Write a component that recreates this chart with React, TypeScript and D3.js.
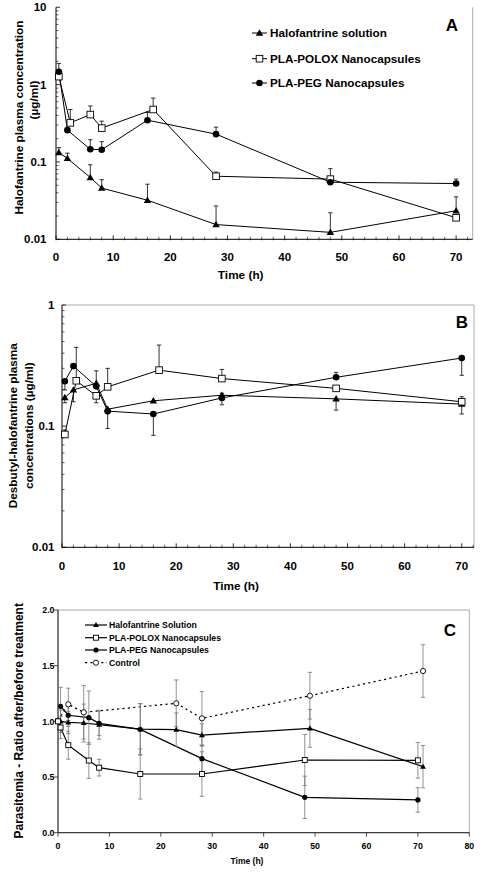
import React from 'react';
import * as d3 from 'd3';

// ---------- Panel A data (Halofantrine plasma concentration, µg/ml) ----------
const A_sol_t = [0.5, 2, 6, 8, 16, 28, 48, 70];
const A_sol = [0.132, 0.111, 0.063, 0.046, 0.032, 0.0155, 0.0123, 0.0234];
const A_sol_hi = [0.153, 0.13, 0.092, 0.059, 0.0516, 0.027, 0.022, 0.0354];
const A_polox_t = [0.5, 2.5, 6, 8, 17, 28, 48, 70];
const A_polox = [1.27, 0.32, 0.41, 0.274, 0.477, 0.0654, 0.06, 0.019];
const A_polox_hi = [null, 0.477, 0.53, 0.337, 0.67, 0.074, 0.082, null];
const A_peg_t = [0.5, 2, 6, 8, 16, 28, 48, 70];
const A_peg = [1.47, 0.258, 0.146, 0.144, 0.347, 0.229, 0.0547, 0.0526];
const A_peg_hi = [1.88, null, 0.194, 0.183, 0.436, 0.282, null, 0.06];

// ---------- Panel B data (Desbutyl-halofantrine, µg/ml) ----------
const B_sol_t = [0.5, 2, 6, 8, 16, 28, 48, 70];
const B_sol = [0.172, 0.199, 0.226, 0.138, 0.162, 0.18, 0.168, 0.152];
const B_sol_lo = [0.156, 0.159, null, null, null, null, 0.1355, 0.126];
const B_sol_hi = [null, null, null, null, null, 0.187, null, null];
const B_polox_t = [0.5, 2.5, 6, 8, 17, 28, 48, 70];
const B_polox = [0.0854, 0.237, 0.178, 0.211, 0.29, 0.247, 0.205, 0.159];
const B_polox_hi = [0.093, 0.447, null, 0.3, 0.467, 0.294, null, 0.175];
const B_polox_lo = [null, null, 0.156, null, null, null, null, null];
const B_peg_t = [0.5, 2, 6, 8, 16, 28, 48, 70];
const B_peg = [0.235, 0.313, 0.213, 0.133, 0.126, 0.171, 0.253, 0.365];
const B_peg_lo = [0.199, null, null, 0.0957, 0.084, 0.15, null, 0.263];
const B_peg_hi = [null, null, 0.286, null, null, null, 0.278, null];

// ---------- Panel C data (Parasitemia ratio) ----------
const C_sol_t = [0.5, 2, 5, 8, 16, 23, 28, 49, 71];
const C_sol = [1.0, 0.99, 0.985, 0.97, 0.93, 0.925, 0.877, 0.937, 0.593];
const C_sol_sd = [0.1, 0.1, 0.17, 0.13, 0.23, 0.15, 0.1, 0.17, 0.19];
const C_polox_t = [0, 0.5, 2, 6, 8, 16, 28, 48, 70];
const C_polox = [1.0, 0.945, 0.786, 0.648, 0.584, 0.527, 0.527, 0.653, 0.65];
const C_polox_sd = [0, 0.1, 0.126, 0.16, 0.075, 0.225, 0.2, 0.23, 0.16];
const C_peg_t = [0.5, 2, 6, 8, 16, 28, 48, 70];
const C_peg = [1.135, 1.055, 1.033, 0.982, 0.928, 0.665, 0.318, 0.294];
const C_peg_sd = [0.17, 0.1, 0.24, 0.11, 0.23, 0.12, 0.19, 0.11];
const C_ctrl_t = [0, 2, 5, 23, 28, 49, 71];
const C_ctrl = [1.006, 1.153, 1.081, 1.162, 1.027, 1.23, 1.452];
const C_ctrl_sd = [0, 0.145, 0.24, 0.21, 0.24, 0.21, 0.236];

const A_yticks = [10, 1, 0.1, 0.01];
const A_ylabels = ['10', '1', '0.1', '0.01'];
const B_yticks = [1, 0.1, 0.01];
const B_ylabels = ['1', '0.1', '0.01'];
const AB_xticks = [0, 10, 20, 30, 40, 50, 60, 70];
const C_yticks = [0, 0.5, 1.0, 1.5, 2.0];
const C_xticks = [0, 10, 20, 30, 40, 50, 60, 70, 80];

const LEG_AB = ['Halofantrine solution', 'PLA-POLOX Nanocapsules', 'PLA-PEG Nanocapsules'];
const LEG_C = ['Halofantrine Solution', 'PLA-POLOX Nanocapsules', 'PLA-PEG Nanocapsules', 'Control'];

const FONT = "'Liberation Sans', Arial, Helvetica, sans-serif";

type Kind = 'tri' | 'sq' | 'circ' | 'ocirc';

function marker(kind: Kind, x: number, y: number, big: boolean, key: string) {
  const triSize = big ? 24 : 15;
  const sq = big ? 6.6 : 5;
  const r = big ? 3.3 : 2.6;
  if (kind === 'tri') {
    const p = d3.symbol(d3.symbolTriangle, triSize)() as string;
    return <path key={key} d={p} transform={`translate(${x},${y + (big ? 0.5 : 0.4)})`} fill="#000" />;
  }
  if (kind === 'sq') {
    return <rect key={key} x={x - sq / 2} y={y - sq / 2} width={sq} height={sq} fill="#fff" stroke="#000" strokeWidth={0.9} />;
  }
  if (kind === 'circ') {
    return <circle key={key} cx={x} cy={y} r={r} fill="#000" />;
  }
  return <circle key={key} cx={x} cy={y} r={r} fill="#fff" stroke="#000" strokeWidth={0.9} />;
}

interface S {
  t: number[];
  v: number[];
  hi?: (number | null)[];
  lo?: (number | null)[];
  kind: Kind;
  dashed?: boolean;
}

function renderSeries(
  list: S[],
  x: (n: number) => number,
  y: (n: number) => number,
  big: boolean,
  errColor: string,
  lineW: number,
  pre: string
) {
  const out: React.ReactNode[] = [];
  const cap = 2.2;
  list.forEach((s, si) => {
    const line = d3
      .line<number>()
      .x((_, i) => x(s.t[i]))
      .y((d) => y(d));
    out.push(
      <path
        key={`${pre}l${si}`}
        d={line(s.v) as string}
        fill="none"
        stroke="#000"
        strokeWidth={lineW}
        strokeDasharray={s.dashed ? '2.2,3.2' : undefined}
      />
    );
  });
  list.forEach((s, si) => {
    s.v.forEach((v, i) => {
      const ends = [s.hi ? s.hi[i] : null, s.lo ? s.lo[i] : null];
      ends.forEach((e, k) => {
        if (e === null || e === undefined || e === v) return;
        const xx = x(s.t[i]);
        out.push(
          <g key={`${pre}e${si}-${i}-${k}`} stroke={errColor} strokeWidth={0.8}>
            <line x1={xx} x2={xx} y1={y(v)} y2={y(e)} />
            <line x1={xx - cap} x2={xx + cap} y1={y(e)} y2={y(e)} />
          </g>
        );
      });
    });
  });
  list.forEach((s, si) => {
    s.v.forEach((v, i) => {
      out.push(marker(s.kind, x(s.t[i]), y(v), big, `${pre}m${si}-${i}`));
    });
  });
  return out;
}

function LogPanel(props: {
  x0: number; x1: number; xmax: number; y0: number; y1: number;
  ymin: number; ymax: number; yticks: number[]; ylabels: string[];
  series: S[]; topBorder: boolean; pre: string; ylabRight: number; xlabY: number;
}) {
  const { x0, x1, xmax, y0, y1, ymin, ymax, yticks, ylabels, series, topBorder, pre, ylabRight, xlabY } = props;
  const x = d3.scaleLinear().domain([0, xmax]).range([x0, x1]);
  const y = d3.scaleLog().domain([ymin, ymax]).range([y0, y1]);
  const els: React.ReactNode[] = [];
  const decs = yticks.filter((d) => d < ymax);
  decs.forEach((d) => {
    for (let k = 2; k <= 9; k++) {
      const yy = y(d * k);
      els.push(<line key={`${pre}ym${d}-${k}`} x1={x0} x2={x0 + 2.5} y1={yy} y2={yy} stroke="#000" strokeWidth={0.6} />);
    }
  });
  yticks.forEach((d, i) => {
    const yy = y(d);
    els.push(<line key={`${pre}yt${i}`} x1={x0} x2={x0 + 4} y1={yy} y2={yy} stroke="#000" strokeWidth={0.8} />);
    els.push(
      <text key={`${pre}yl${i}`} x={ylabRight} y={yy + 4} textAnchor="end" fontSize={11.5} fontWeight="bold">
        {ylabels[i]}
      </text>
    );
  });
  d3.range(0, xmax, 2).forEach((v) => {
    const major = v % 10 === 0;
    els.push(
      <line key={`${pre}xm${v}`} x1={x(v)} x2={x(v)} y1={y0 + 1} y2={y0 - (major ? 4 : 2.5)} stroke="#000" strokeWidth={major ? 0.8 : 0.6} />
    );
  });
  AB_xticks.forEach((v) => {
    els.push(
      <text key={`${pre}xl${v}`} x={x(v)} y={xlabY} textAnchor="middle" fontSize={11.5} fontWeight="bold">
        {v}
      </text>
    );
  });
  return (
    <g>
      <line x1={x1} x2={x1} y1={y1} y2={y0} stroke="#aaa" strokeWidth={1} />
      {topBorder && <line x1={x0} x2={x1} y1={y1} y2={y1} stroke="#aaa" strokeWidth={1} />}
      <line x1={x0} x2={x0} y1={y1} y2={y0} stroke="#000" strokeWidth={1} />
      <line x1={x0} x2={x1} y1={y0} y2={y0} stroke="#000" strokeWidth={1} />
      {els}
      {renderSeries(series, x, y, true, '#000', 1, pre)}
    </g>
  );
}

export default function App() {
  const seriesA: S[] = [
    { t: A_sol_t, v: A_sol, hi: A_sol_hi, kind: 'tri' },
    { t: A_polox_t, v: A_polox, hi: A_polox_hi, kind: 'sq' },
    { t: A_peg_t, v: A_peg, hi: A_peg_hi, kind: 'circ' },
  ];
  const seriesB: S[] = [
    { t: B_sol_t, v: B_sol, hi: B_sol_hi, lo: B_sol_lo, kind: 'tri' },
    { t: B_polox_t, v: B_polox, hi: B_polox_hi, lo: B_polox_lo, kind: 'sq' },
    { t: B_peg_t, v: B_peg, hi: B_peg_hi, lo: B_peg_lo, kind: 'circ' },
  ];
  const mk = (v: number[], sd: number[], f: number) => v.map((d, i) => d + f * sd[i]);
  const seriesC: S[] = [
    { t: C_ctrl_t, v: C_ctrl, hi: mk(C_ctrl, C_ctrl_sd, 1), lo: mk(C_ctrl, C_ctrl_sd, -1), kind: 'ocirc', dashed: true },
    { t: C_sol_t, v: C_sol, hi: mk(C_sol, C_sol_sd, 1), lo: mk(C_sol, C_sol_sd, -1), kind: 'tri' },
    { t: C_polox_t, v: C_polox, hi: mk(C_polox, C_polox_sd, 1), lo: mk(C_polox, C_polox_sd, -1), kind: 'sq' },
    { t: C_peg_t, v: C_peg, hi: mk(C_peg, C_peg_sd, 1), lo: mk(C_peg, C_peg_sd, -1), kind: 'circ' },
  ];

  const cx0 = 58, cx1 = 469.3, cy0 = 832.7, cy1 = 610;
  const xC = d3.scaleLinear().domain([0, 80]).range([cx0, cx1]);
  const yC = d3.scaleLinear().domain([0, 2]).range([cy0, cy1]);

  const legA = [
    { kind: 'tri' as Kind, y: 33 },
    { kind: 'sq' as Kind, y: 58.7 },
    { kind: 'circ' as Kind, y: 83 },
  ];
  const legC = [
    { kind: 'tri' as Kind, y: 625, dashed: false },
    { kind: 'sq' as Kind, y: 637.7, dashed: false },
    { kind: 'circ' as Kind, y: 650, dashed: false },
    { kind: 'ocirc' as Kind, y: 662.7, dashed: true },
  ];

  return (
    <svg
      width={484}
      height={875}
      style={{ position: 'absolute', left: 0, top: 0, background: '#fff' }}
      fontFamily={FONT}
    >
      <rect x={0} y={0} width={484} height={875} fill="#fff" />
      {/* ---------------- Panel A ---------------- */}
      <LogPanel
        x0={56} x1={472.7} xmax={72.9} y0={239.3} y1={7.3}
        ymin={0.01} ymax={10} yticks={A_yticks} ylabels={A_ylabels}
        series={seriesA} topBorder={false} pre="A" ylabRight={46.5} xlabY={261}
      />
      {legA.map((l, i) => (
        <g key={`la${i}`}>
          <line x1={252} x2={267} y1={l.y} y2={l.y} stroke="#000" strokeWidth={1} />
          {marker(l.kind, 259.5, l.y, true, `lam${i}`)}
          <text x={270} y={l.y + 4.2} fontSize={11.7} fontWeight="bold">{LEG_AB[i]}</text>
        </g>
      ))}
      <text x={452} y={31} textAnchor="middle" fontSize={17} fontWeight="bold">A</text>
      <text transform="translate(22.5,117.5) rotate(-90)" textAnchor="middle" fontSize={11.8} fontWeight="bold">
        Halofantrine plasma concentration
      </text>
      <text transform="translate(37.5,100) rotate(-90)" textAnchor="middle" fontSize={11.8} fontWeight="bold">
        (µg/ml)
      </text>
      <text x={240.7} y={279} textAnchor="middle" fontSize={11.8} fontWeight="bold">Time (h)</text>

      {/* ---------------- Panel B ---------------- */}
      <LogPanel
        x0={62} x1={474} xmax={72.15} y0={547.3} y1={305}
        ymin={0.01} ymax={1} yticks={B_yticks} ylabels={B_ylabels}
        series={seriesB} topBorder={true} pre="B" ylabRight={54.5} xlabY={570}
      />
      <text x={462} y={328} textAnchor="middle" fontSize={17} fontWeight="bold">B</text>
      <text transform="translate(17,425.7) rotate(-90)" textAnchor="middle" fontSize={11.8} fontWeight="bold">
        Desbutyl-halofantrine plasma
      </text>
      <text transform="translate(32.5,425.7) rotate(-90)" textAnchor="middle" fontSize={11.8} fontWeight="bold">
        concentrations (µg/ml)
      </text>
      <text x={236} y={590} textAnchor="middle" fontSize={11.8} fontWeight="bold">Time (h)</text>

      {/* ---------------- Panel C ---------------- */}
      <rect x={cx0} y={cy1} width={cx1 - cx0} height={cy0 - cy1} fill="none" stroke="#aaa" strokeWidth={1} />
      <line x1={cx0} x2={cx0} y1={cy1} y2={cy0} stroke="#222" strokeWidth={1} />
      <line x1={cx0} x2={cx1} y1={cy0} y2={cy0} stroke="#222" strokeWidth={1} />
      {C_yticks.map((v) => (
        <g key={`cyt${v}`}>
          <line x1={cx0 - 4} x2={cx0} y1={yC(v)} y2={yC(v)} stroke="#222" strokeWidth={0.8} />
          <text x={54.5} y={yC(v) + 3.2} textAnchor="end" fontSize={8.8} fontWeight="bold">{v.toFixed(1)}</text>
        </g>
      ))}
      {C_xticks.map((v) => (
        <g key={`cxt${v}`}>
          <line x1={xC(v)} x2={xC(v)} y1={cy0} y2={cy0 + 4} stroke="#222" strokeWidth={0.8} />
          <text x={xC(v)} y={849} textAnchor="middle" fontSize={8.8} fontWeight="bold">{v}</text>
        </g>
      ))}
      {renderSeries(seriesC, xC, yC, false, '#777', 1.2, 'C')}
      {legC.map((l, i) => (
        <g key={`lc${i}`}>
          <line x1={85} x2={107} y1={l.y} y2={l.y} stroke="#000" strokeWidth={1.2} strokeDasharray={l.dashed ? '2.2,3.2' : undefined} />
          {marker(l.kind, 96, l.y, false, `lcm${i}`)}
          <text x={109} y={l.y + 3.1} fontSize={8.7} fontWeight="bold">{LEG_C[i]}</text>
        </g>
      ))}
      <text x={450} y={636} textAnchor="middle" fontSize={17} fontWeight="bold">C</text>
      <text transform="translate(22.5,720.8) rotate(-90)" textAnchor="middle" fontSize={12} fontWeight="bold">
        Parasitemia - Ratio after/before treatment
      </text>
      <text x={247} y={864} textAnchor="middle" fontSize={8.5} fontWeight="bold">Time (h)</text>
    </svg>
  );
}
